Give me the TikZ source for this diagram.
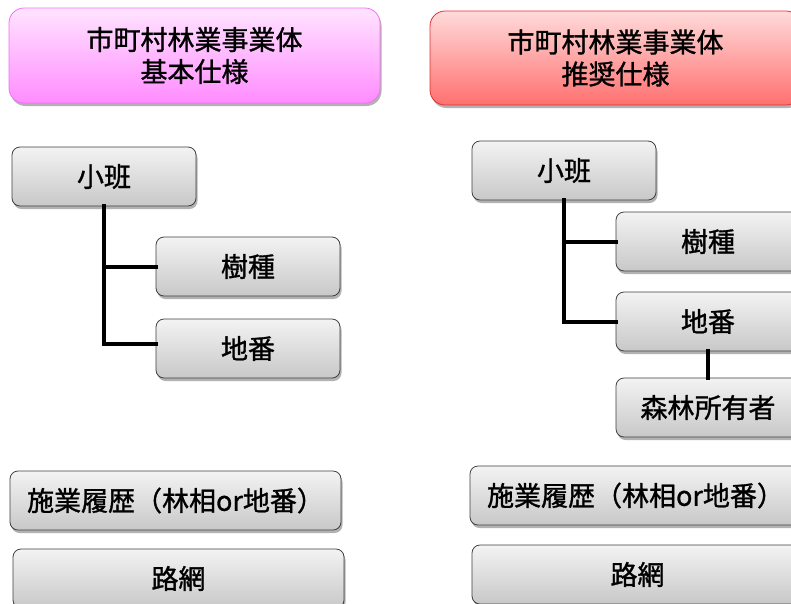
\documentclass[tikz,border=0pt]{standalone}
\usepackage{fontspec}
\newfontfamily\cjk[FakeBold=1.2]{Noto Sans CJK JP}
\usetikzlibrary{shadows}
\definecolor{pinktop}{RGB}{255,228,255}
\definecolor{pinkbot}{RGB}{255,140,255}
\definecolor{pinkline}{RGB}{245,110,245}
\definecolor{redtop}{RGB}{255,218,218}
\definecolor{redbot}{RGB}{255,112,112}
\definecolor{redline}{RGB}{225,50,50}
\definecolor{graytop}{RGB}{243,243,243}
\definecolor{graybot}{RGB}{200,200,200}
\tikzset{
  basebox/.style={rectangle, anchor=north west, inner sep=0pt, outer sep=0pt,
    font=\cjk\fontsize{27}{32}\selectfont, align=center,
    drop shadow={shadow xshift=1.5pt, shadow yshift=-3pt, opacity=0.3, fill=black}},
  gbox/.style={basebox, draw=black!75, line width=0.8pt, rounded corners=8pt,
    top color=graytop, bottom color=graybot, minimum height=59pt},
  pinkhead/.style={basebox, draw=pinkline, line width=0.8pt, rounded corners=15pt,
    top color=pinktop, bottom color=pinkbot, minimum width=371pt, minimum height=95pt},
  redhead/.style={basebox, draw=redline, line width=0.8pt, rounded corners=15pt,
    top color=redtop, bottom color=redbot, minimum width=371pt, minimum height=94pt},
  conn/.style={line width=4pt, black, line cap=rect, line join=miter}
}
\begin{document}
\begin{tikzpicture}[x=1pt, y=-1pt]
\path[use as bounding box, clip] (0,0) rectangle (791,603);
\fill[white] (0,0) rectangle (791,603);
% headers
\node[pinkhead] (HL) at (9,8) {市町村林業事業体\\基本仕様};
\node[redhead] (HR) at (430,11) {市町村林業事業体\\推奨仕様};
% left tree
\node[gbox, minimum width=184pt] (L0) at (12,147) {小班};
\node[gbox, minimum width=184pt] (L1) at (156,237) {樹種};
\node[gbox, minimum width=184pt] (L2) at (156,319) {地番};
\draw[conn] (L0.south) |- ([yshift=5pt]L2.west);
\draw[conn] (L0.south |- L1.west) -- (L1.west);
% right tree
\node[gbox, minimum width=184pt] (R0) at (472,141) {小班};
\node[gbox, minimum width=184pt] (R1) at (616,212) {樹種};
\node[gbox, minimum width=184pt] (R2) at (616,292) {地番};
\node[gbox, minimum width=184pt] (R3) at (616,378) {森林所有者};
\draw[conn] (R0.south) |- (R2.west);
\draw[conn] (R0.south |- R1.west) -- (R1.west);
\draw[conn] (R2.south) -- (R3.north);
% bottom boxes
\node[gbox, minimum width=331pt] (LH) at (10,471) {施業履歴（林相or地番）};
\node[gbox, minimum width=331pt] (LR) at (13,549) {路網};
\node[gbox, minimum width=331pt] (RH) at (470,466) {施業履歴（林相or地番）};
\node[gbox, minimum width=331pt] (RR) at (472,545) {路網};
\end{tikzpicture}
\end{document}
